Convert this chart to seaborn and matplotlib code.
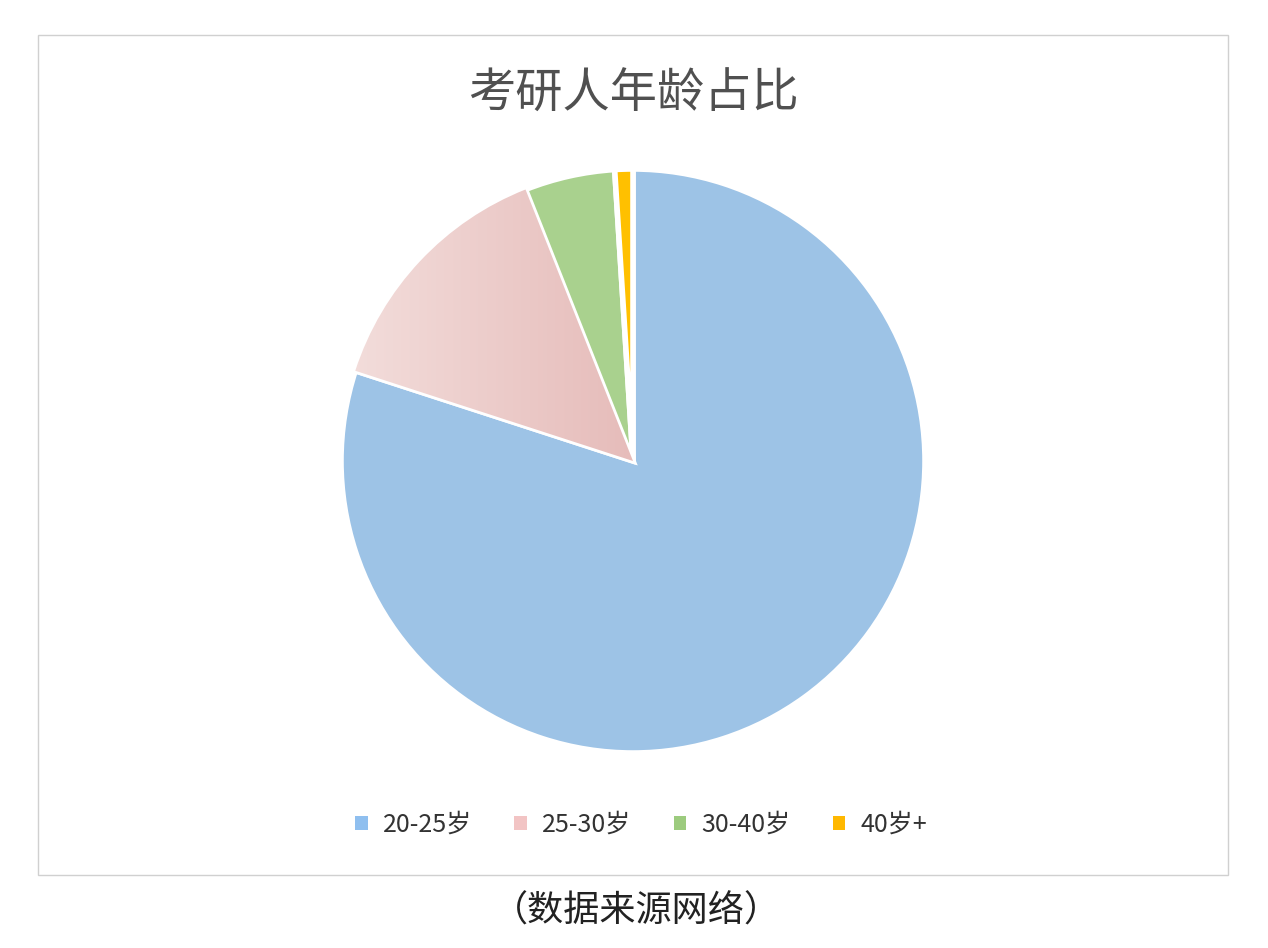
import numpy as np
import seaborn as sns
import matplotlib.pyplot as plt
from matplotlib.patches import Rectangle, Patch
from matplotlib.colors import LinearSegmentedColormap

# data (percent)
labels = ["20-25岁", "25-30岁", "30-40岁", "40岁+"]
shares = [80, 14, 5, 1]
colors = ["#9DC3E6", "#EACAC8", "#A9D18E", "#FFC000"]
legend_colors = ["#8FBFEF", "#F2C4C4", "#9CCB7E", "#FFB800"]

sns.set_theme(style="white")
plt.rcParams["font.family"] = ["Noto Sans CJK SC", "DejaVu Sans"]

W, H = 1268, 948
fig = plt.figure(figsize=(W / 100, H / 100), dpi=100)
fig.patch.set_facecolor("white")

# chart frame
fig.add_artist(Rectangle((38 / W, 1 - 875 / H), (1228 - 38) / W, (875 - 35) / H,
                         transform=fig.transFigure, fill=False,
                         edgecolor="#D0D0D0", linewidth=1))

cx, cy, r = 633, 461, 292
ax = fig.add_axes([(cx - r) / W, (H - cy - r) / H, 2 * r / W, 2 * r / H])
wedges, _ = ax.pie(shares, colors=colors, startangle=90, counterclock=False,
                   wedgeprops=dict(edgecolor="white", linewidth=4))
ax.set_aspect("equal")
ax.axis("off")

# soft left-to-right gradient on the 25-30 slice
grad = LinearSegmentedColormap.from_list("pinkgrad", ["#F3DEDC", "#E6BCBA"])
img = ax.imshow(np.tile(np.linspace(0, 1, 256), (2, 1)), cmap=grad,
                extent=[-1, 0, -1, 1], aspect="auto", zorder=1.5)
img.set_clip_path(wedges[1])
ax.set_xlim(-1, 1)
ax.set_ylim(-1, 1)

fig.text(633 / W, 1 - 95 / H, "考研人年龄占比", ha="center", va="center",
         fontsize=34, color="#505050", fontweight="light")

handles = [Patch(facecolor=c, edgecolor="none") for c in legend_colors]
fig.legend(handles, labels, loc="center", bbox_to_anchor=(641 / W, 1 - 825 / H),
           ncol=4, frameon=False, fontsize=18, handlelength=0.5, handleheight=0.5,
           handletextpad=0.6, columnspacing=1.7, labelcolor="#333333")

fig.text(636 / W, 1 - 912 / H, "（数据来源网络）", ha="center", va="center",
         fontsize=26, color="#222222")

fig.savefig("out.png", dpi=100)
